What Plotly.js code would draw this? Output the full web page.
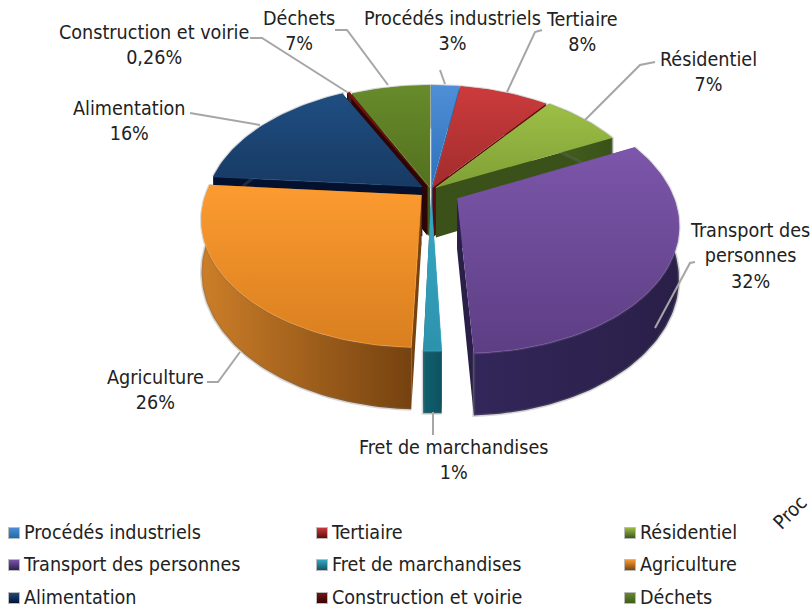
<!DOCTYPE html>
<html><head><meta charset="utf-8">
<script src="https://cdn.plot.ly/plotly-3.0.1.min.js"></script>
<style>html,body{margin:0;padding:0;background:#fff;overflow:hidden}#c{width:811px;height:608px}</style>
</head><body><div id="c"></div>
<script>
const categories=["Procédés industriels","Tertiaire","Résidentiel","Transport des personnes","Fret de marchandises","Agriculture","Alimentation","Construction et voirie","Déchets"];
const values=[2.5,7.9,7.2,31.5,1.1,25.7,16.3,0.26,7];
const valueLabels=["3%","8%","7%","32%","1%","26%","16%","0,26%","7%"];
const explode=[0.02,0.02,0.03,0.14,0.06,0.06,0.05,0.04,0.02];
const topLight=["#4f8fd8","#cc3b3c","#9dbf47","#7c56aa","#36a9c5","#fc9b30","#1f4e82","#7a1414","#678b2b"];
const topDark=["#2f70ba","#a12c2c","#7fa035","#5d3e84","#2d92ac","#d97f1f","#173a63","#5a0d0d","#54701f"];
const wallLight=["#1c7cc0","#6d1010","#43601f","#33265a","#0f6070","#cc7e28","#03112e","#3a0505","#3e5a1a"];
const wallDark=["#1c6aa8","#5a0c0c","#3a5219","#2a1f48","#0e5260","#754210","#03112e","#300404","#3e5a1a"];

const cx=431,cy=190,A=214,B=122,P=0.186,D=50;
function proj(u,v,z){const w=1-P*v;return [cx+A*u/w,cy+(B*v+D*z)/w];}
const total=values.reduce((a,b)=>a+b,0);
let traces=[],slices=[],acc=0;
values.forEach((val,i)=>{const a0=acc/total*2*Math.PI;acc+=val;const a1=acc/total*2*Math.PI;
  const m=(a0+a1)/2;slices.push({i,a0,a1,m,du:explode[i]*Math.sin(m),dv:-explode[i]*Math.cos(m)});});
function poly(xy,c0,c1,type,lineColor,lineWidth){traces.push({type:"scatter",mode:"lines",x:xy.map(p=>p[0]),y:xy.map(p=>p[1]),fill:"toself",
  fillgradient:{type:type,colorscale:[[0,c0],[1,c1]]},line:{width:lineWidth||0,color:lineColor||c1},hoverinfo:"skip",showlegend:false});}
slices.slice().sort((a,b)=>(-Math.cos(a.m)+explode[a.i])-(-Math.cos(b.m)+explode[b.i])).forEach(s=>{
  const i=s.i,n=Math.max(4,Math.ceil((s.a1-s.a0)*40));
  const pt=(t,r,z)=>proj(s.du+r*Math.sin(t),s.dv-r*Math.cos(t),z);
  const radial=[s.a0,s.a1].map(t=>({t,v:-Math.cos(t)})).sort((a,b)=>a.v-b.v);
  radial.forEach(r=>poly([pt(0,0,0),pt(r.t,1,0),pt(r.t,1,1),pt(0,0,1)],wallDark[i],wallDark[i],"vertical"));
  let topArc=[],botArc=[];
  for(let k=0;k<=n;k++){const t=s.a0+(s.a1-s.a0)*k/n;topArc.push(pt(t,1,0));botArc.push(pt(t,1,1));}
  poly(topArc.concat(botArc.slice().reverse()),wallLight[i],wallDark[i],"horizontal","rgba(110,110,110,0.28)",3);
  // with the reversed y axis the gradient runs from the bottom of the shape to its top
  poly([pt(0,0,0)].concat(topArc),topDark[i],topLight[i],"vertical",topLight[i],0.7);
});
// leader lines
const leaderX=[[440,445],[542,535,507],[655,640,585],[695,690,655],[433,433],[207,218,240],[190,260],[250,262,347],[335,347,388]];
const leaderY=[[70,84],[30,32,92],[62,65,120],[262,263,328],[412,435],[382,382,352],[113,125],[38,38,92],[30,30,85]];
leaderX.forEach((lx,i)=>traces.push({type:"scatter",mode:"lines",x:lx,y:leaderY[i],line:{color:"#a6a6a6",width:2},hoverinfo:"skip",showlegend:false}));
// legend
const legendX=[14,322,630],legendY=[533,565,598];
const fontFamily="DejaVu Sans Condensed, DejaVu Sans";
const textSize=19.6;
traces.push({type:"scatter",mode:"markers",
  x:categories.map((c,i)=>legendX[i%3]),y:categories.map((c,i)=>legendY[Math.floor(i/3)]),
  marker:{symbol:"square",size:11,color:topLight,gradient:{type:"vertical",color:wallDark},line:{color:"#bbbbbb",width:1}},
  hoverinfo:"skip",showlegend:false});
traces.push({type:"scatter",mode:"text",
  x:categories.map((c,i)=>legendX[i%3]+10),y:categories.map((c,i)=>legendY[Math.floor(i/3)]+1.5),
  text:categories,textposition:"middle right",textfont:{family:fontFamily,size:textSize,color:"#222"},
  hoverinfo:"skip",showlegend:false});
// labels
const labelX=[452,582,708,750,453,155,129,154,299];
const labelY=[31,32,72,256,460,390,121,45,31];
const labelText=["Procédés industriels","Tertiaire","Résidentiel","Transport des<br>personnes","Fret de marchandises","Agriculture","Alimentation","Construction et voirie","Déchets"];
const annFont={family:fontFamily,size:textSize,color:"#222"};
let annotations=labelText.map((t,i)=>({x:labelX[i],y:labelY[i],xref:"x",yref:"y",text:t+"<br>"+valueLabels[i],showarrow:false,font:annFont,align:"center",xanchor:"center",yanchor:"middle"}));
annotations.push({x:790,y:512,xref:"x",yref:"y",text:"Proc",textangle:-45,showarrow:false,font:annFont,xanchor:"center",yanchor:"middle"});
Plotly.newPlot("c",traces,{width:811,height:608,margin:{l:0,r:0,t:0,b:0},paper_bgcolor:"#fff",plot_bgcolor:"#fff",showlegend:false,
  xaxis:{range:[0,811],visible:false,fixedrange:true},yaxis:{range:[608,0],visible:false,fixedrange:true},annotations:annotations},{displayModeBar:false,staticPlot:true});
</script></body></html>
